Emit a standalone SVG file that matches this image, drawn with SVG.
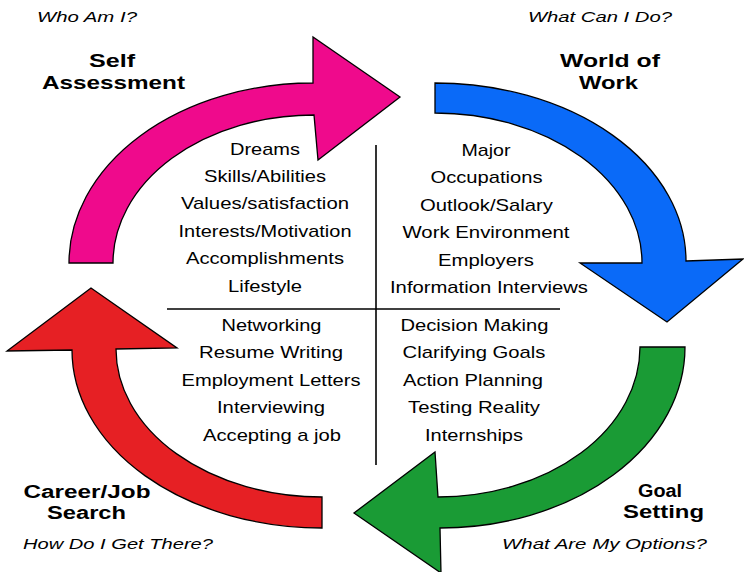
<svg xmlns="http://www.w3.org/2000/svg" width="744" height="572" viewBox="0 0 744 572">
<style>
.arrow{stroke:#000;stroke-width:1.3;stroke-linejoin:miter}
.title{font-family:"Liberation Sans",Arial,sans-serif;font-weight:bold;font-size:18px;fill:#000;text-anchor:middle}
.sub{font-family:"Liberation Sans",Arial,sans-serif;font-style:italic;font-size:15px;fill:#000}
.item{font-family:"Liberation Sans",Arial,sans-serif;font-size:17px;fill:#000;text-anchor:middle}
.div{stroke:#000;stroke-width:1.6}
</style>
<rect width="744" height="572" fill="#fff"/>
<g id="self-assessment">
<path class="arrow" fill="#EF0A8C" d="M69 263 A244 180 0 0 1 313 83 L313 37 L400 97 L318 160 L314 115 A201 148 0 0 0 113 263 Z"/>
<text class="sub" x="37" y="22" textLength="100" lengthAdjust="spacingAndGlyphs">Who Am I?</text>
<text class="title" x="112" y="67" textLength="46" lengthAdjust="spacingAndGlyphs">Self</text>
<text class="title" x="113.5" y="89" textLength="143" lengthAdjust="spacingAndGlyphs">Assessment</text>
<text class="item" x="265" y="155" textLength="70" lengthAdjust="spacingAndGlyphs">Dreams</text>
<text class="item" x="265" y="182" textLength="122" lengthAdjust="spacingAndGlyphs">Skills/Abilities</text>
<text class="item" x="265" y="209" textLength="168" lengthAdjust="spacingAndGlyphs">Values/satisfaction</text>
<text class="item" x="265" y="237" textLength="173" lengthAdjust="spacingAndGlyphs">Interests/Motivation</text>
<text class="item" x="265" y="264" textLength="158" lengthAdjust="spacingAndGlyphs">Accomplishments</text>
<text class="item" x="265" y="292" textLength="74" lengthAdjust="spacingAndGlyphs">Lifestyle</text>
</g>
<g id="world-of-work">
<path class="arrow" fill="#0A6AF8" d="M435 83 A251 178 0 0 1 686 261 L743 259 L667 322 L580 263 L642 263 A207 150 0 0 0 435 113 Z"/>
<text class="sub" x="528" y="22" textLength="144" lengthAdjust="spacingAndGlyphs">What Can I Do?</text>
<text class="title" x="610" y="67" textLength="100" lengthAdjust="spacingAndGlyphs">World of</text>
<text class="title" x="608.5" y="89" textLength="59" lengthAdjust="spacingAndGlyphs">Work</text>
<text class="item" x="486" y="156" textLength="49" lengthAdjust="spacingAndGlyphs">Major</text>
<text class="item" x="486.5" y="183" textLength="112" lengthAdjust="spacingAndGlyphs">Occupations</text>
<text class="item" x="486.5" y="211" textLength="133" lengthAdjust="spacingAndGlyphs">Outlook/Salary</text>
<text class="item" x="486" y="238" textLength="167" lengthAdjust="spacingAndGlyphs">Work Environment</text>
<text class="item" x="486" y="266" textLength="96" lengthAdjust="spacingAndGlyphs">Employers</text>
<text class="item" x="489" y="293" textLength="198" lengthAdjust="spacingAndGlyphs">Information Interviews</text>
</g>
<g id="goal-setting">
<path class="arrow" fill="#1A9B35" d="M685 347 A245 181 0 0 1 440 528 L441 573 L354 513 L435 452 L438 497 A202 150 0 0 0 640 347 Z"/>
<text class="sub" x="502" y="549" textLength="205" lengthAdjust="spacingAndGlyphs">What Are My Options?</text>
<text class="title" x="660" y="497" textLength="44" lengthAdjust="spacingAndGlyphs">Goal</text>
<text class="title" x="663.5" y="518" textLength="81" lengthAdjust="spacingAndGlyphs">Setting</text>
<text class="item" x="474.5" y="331" textLength="148" lengthAdjust="spacingAndGlyphs">Decision Making</text>
<text class="item" x="474" y="358" textLength="143" lengthAdjust="spacingAndGlyphs">Clarifying Goals</text>
<text class="item" x="473" y="386" textLength="140" lengthAdjust="spacingAndGlyphs">Action Planning</text>
<text class="item" x="474" y="413" textLength="132" lengthAdjust="spacingAndGlyphs">Testing Reality</text>
<text class="item" x="474" y="440.5" textLength="98" lengthAdjust="spacingAndGlyphs">Internships</text>
</g>
<g id="career-job-search">
<path class="arrow" fill="#E62024" d="M322 528 A250 178 0 0 1 72 350 L7 351 L91 288 L177 348 L116 349 A206 148 0 0 0 322 497 Z"/>
<text class="sub" x="23" y="549" textLength="190" lengthAdjust="spacingAndGlyphs">How Do I Get There?</text>
<text class="title" x="87" y="497.5" textLength="127" lengthAdjust="spacingAndGlyphs">Career/Job</text>
<text class="title" x="86.5" y="519" textLength="79" lengthAdjust="spacingAndGlyphs">Search</text>
<text class="item" x="271.5" y="331" textLength="100" lengthAdjust="spacingAndGlyphs">Networking</text>
<text class="item" x="271" y="358" textLength="144" lengthAdjust="spacingAndGlyphs">Resume Writing</text>
<text class="item" x="271" y="386" textLength="179" lengthAdjust="spacingAndGlyphs">Employment Letters</text>
<text class="item" x="271" y="413" textLength="108" lengthAdjust="spacingAndGlyphs">Interviewing</text>
<text class="item" x="272" y="440.5" textLength="138" lengthAdjust="spacingAndGlyphs">Accepting a job</text>
</g>
<g id="dividers">
<line class="div" x1="376" y1="145" x2="376" y2="465"/>
<line class="div" x1="167" y1="309" x2="560" y2="309"/>
</g>
</svg>
